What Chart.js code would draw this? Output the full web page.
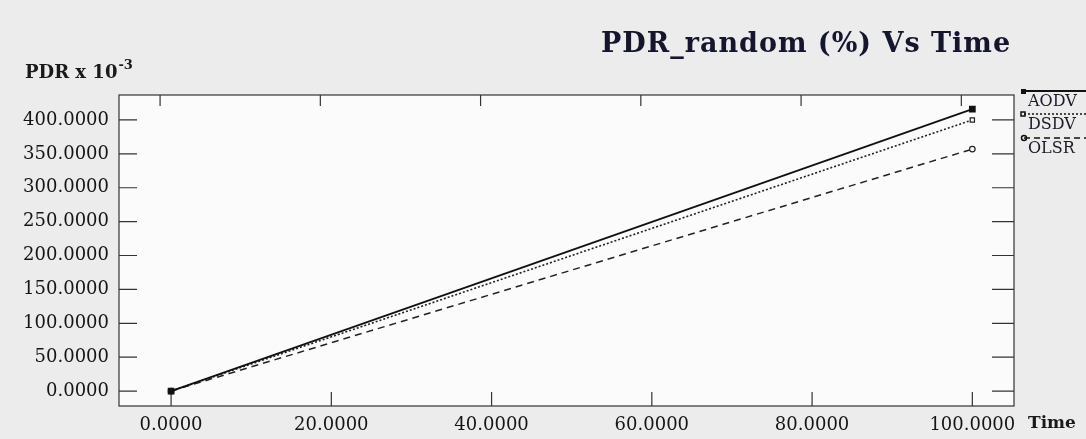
<!DOCTYPE html>
<html>
<head>
<meta charset="utf-8">
<script src="https://cdn.jsdelivr.net/npm/chart.js@4"></script>
<style>
  html, body { margin: 0; padding: 0; background: #ececec; }
  #wrap { width: 1086px; height: 439px; }
</style>
</head>
<body>
<div id="wrap"><canvas id="chart" width="1086" height="439"></canvas></div>
<script>
const times = [0, 100];
const aodv = [0, 416];
const dsdv = [0, 400];
const olsr = [0, 357];
const xTicks = [0, 20, 40, 60, 80, 100];
const yTicks = [0, 50, 100, 150, 200, 250, 300, 350, 400];
const seriesNames = ['AODV', 'DSDV', 'OLSR'];

const serif = '"DejaVu Serif", "Liberation Serif", serif';

function pts(ys) {
  return times.map((t, i) => ({ x: t, y: ys[i] }));
}

// ticks pointing inward on all four sides, plus plot box
const frame = {
  id: 'frame',
  beforeDatasetsDraw(chart) {
    const { ctx, chartArea: a, scales } = chart;
    ctx.save();
    ctx.fillStyle = '#fbfbfb';
    ctx.fillRect(a.left, a.top, a.right - a.left, a.bottom - a.top);
    ctx.strokeStyle = '#333';
    ctx.lineWidth = 1.2;
    ctx.strokeRect(a.left, a.top, a.right - a.left, a.bottom - a.top);
    ctx.beginPath();
    xTicks.forEach(v => {
      const x = scales.x.getPixelForValue(v);
      ctx.moveTo(x, a.bottom); ctx.lineTo(x, a.bottom - 14);
      ctx.moveTo(x - 11, a.top); ctx.lineTo(x - 11, a.top + 11);
    });
    yTicks.forEach(v => {
      const y = scales.y.getPixelForValue(v);
      ctx.moveTo(a.left, y); ctx.lineTo(a.left + 18, y);
      ctx.moveTo(a.right, y); ctx.lineTo(a.right - 22, y);
    });
    ctx.stroke();
    ctx.restore();
  },
  afterDraw(chart) {
    const { ctx } = chart;
    ctx.save();
    ctx.fillStyle = '#15152e';
    ctx.font = 'bold 27px ' + serif;
    ctx.letterSpacing = '1px';
    ctx.textBaseline = 'alphabetic';
    ctx.fillText('PDR_random (%) Vs Time', 601, 52);
    ctx.letterSpacing = '0px';
    ctx.fillStyle = '#1a1a1a';
    ctx.font = 'bold 18px ' + serif;
    ctx.fillText('PDR x 10', 25, 78);
    const w = ctx.measureText('PDR x 10').width;
    ctx.font = 'bold 13px ' + serif;
    ctx.fillText('-3', 25 + w + 1, 69);
    ctx.font = 'bold 17px ' + serif;
    ctx.fillText('Time', 1028, 428);

    // legend, cut off by the right edge like the original
    const styles = [[], [2, 2], [6, 4]];
    const rows = [91, 114, 138];
    ctx.font = '16px ' + serif;
    seriesNames.forEach((name, i) => {
      const y = rows[i];
      ctx.strokeStyle = '#111';
      ctx.lineWidth = i === 0 ? 2 : 1.5;
      ctx.setLineDash(styles[i]);
      ctx.beginPath();
      ctx.moveTo(1024, y); ctx.lineTo(1086, y);
      ctx.stroke();
      ctx.setLineDash([]);
      ctx.fillStyle = '#111';
      if (i === 0) ctx.fillRect(1021, y - 2, 5, 5);
      else if (i === 1) ctx.strokeRect(1021, y - 2, 4, 4);
      else { ctx.beginPath(); ctx.arc(1024, y, 2.5, 0, Math.PI * 2); ctx.stroke(); }
      ctx.fillStyle = '#1a1a2a';
      ctx.fillText(name, 1028, y + 15);
    });
    ctx.restore();
  }
};

new Chart('chart', {
  type: 'scatter',
  data: {
    datasets: [
      {
        label: seriesNames[0], data: pts(aodv), showLine: true,
        borderColor: '#111', backgroundColor: '#111', borderWidth: 1.8,
        pointStyle: 'rect', pointRadius: 3.5
      },
      {
        label: seriesNames[1], data: pts(dsdv), showLine: true,
        borderColor: '#222', backgroundColor: '#fff', borderWidth: 1.6,
        borderDash: [2, 2], pointStyle: 'rect', pointRadius: 3,
        pointBorderWidth: 1.2
      },
      {
        label: seriesNames[2], data: pts(olsr), showLine: true,
        borderColor: '#222', backgroundColor: '#fff', borderWidth: 1.5,
        borderDash: [7, 5], pointStyle: 'circle', pointRadius: 2.8,
        pointBorderWidth: 1.2
      }
    ]
  },
  options: {
    responsive: false,
    animation: false,
    layout: { padding: { top: 95, right: 72, left: 0, bottom: 0 } },
    plugins: {
      legend: { display: false },
      tooltip: { enabled: false }
    },
    scales: {
      x: {
        type: 'linear', min: -6.5, max: 105.2,
        afterBuildTicks(s) { s.ticks = xTicks.map(v => ({ value: v })); },
        afterFit(s) { s.height = 33; },
        grid: { display: false, drawTicks: false },
        border: { display: false },
        ticks: {
          color: '#151515', padding: 9,
          font: { family: serif, size: 18 },
          callback: v => v.toFixed(4)
        }
      },
      y: {
        type: 'linear', min: -22, max: 436.8,
        afterBuildTicks(s) { s.ticks = yTicks.map(v => ({ value: v })); },
        afterFit(s) { s.width = 119; },
        grid: { display: false, drawTicks: false },
        border: { display: false },
        ticks: {
          color: '#151515', padding: 10,
          font: { family: serif, size: 18 },
          callback: v => v.toFixed(4)
        }
      }
    }
  },
  plugins: [frame]
});
</script>
</body>
</html>
